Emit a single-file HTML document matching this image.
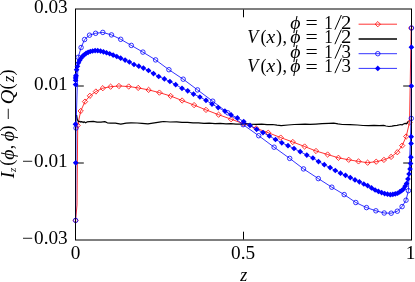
<!DOCTYPE html>
<html><head><meta charset="utf-8"><title>plot</title>
<style>
html,body{margin:0;padding:0;background:#fff;}
body{width:415px;height:282px;overflow:hidden;position:relative;font-family:"Liberation Serif",serif;}
</style></head><body>
<svg width="415" height="282" viewBox="0 0 415 282" style="position:absolute;left:0;top:0;will-change:transform">
<rect x="0" y="0" width="415" height="282" fill="#fff"/>
<g stroke="#000" fill="none" stroke-width="1">
<rect x="75.5" y="9.0" width="336.0" height="231.0"/>
<path d="M76.0 86.0h7.8 M411.0 86.0h-7.8"/>
<path d="M76.0 163.0h7.8 M411.0 163.0h-7.8"/>
<path d="M243.5 239.5v-7.8 M243.5 9.5v7.8"/>
</g>
<polyline points="75.60,220.40 77.00,205.00 77.70,125.40 80.70,111.00 85.00,101.60 89.90,95.80 95.90,91.50 102.80,88.20 110.60,86.70 118.90,86.00 128.70,86.50 138.20,87.90 148.60,89.90 159.40,92.60 170.60,96.00 182.10,100.50 194.10,105.10 206.00,109.90 218.60,114.70 231.10,119.20 243.50,123.70 256.20,128.30 268.20,132.70 280.70,137.60 292.80,142.00 304.60,146.50 316.00,151.00 327.60,154.50 338.40,157.80 348.70,159.80 358.50,161.40 367.60,162.70 376.20,161.70 383.90,159.90 391.10,156.90 397.30,152.20 402.20,145.60 406.20,136.50 409.50,122.50 411.20,28.00" fill="none" stroke="#ff0000" stroke-width="0.80" stroke-linejoin="round"/>
<path d="M75.60 217.75L78.25 220.40L75.60 223.05L72.95 220.40ZM77.70 122.75L80.35 125.40L77.70 128.05L75.05 125.40ZM80.70 108.35L83.35 111.00L80.70 113.65L78.05 111.00ZM85.00 98.95L87.65 101.60L85.00 104.25L82.35 101.60ZM89.90 93.15L92.55 95.80L89.90 98.45L87.25 95.80ZM95.90 88.85L98.55 91.50L95.90 94.15L93.25 91.50ZM102.80 85.55L105.45 88.20L102.80 90.85L100.15 88.20ZM110.60 84.05L113.25 86.70L110.60 89.35L107.95 86.70ZM118.90 83.35L121.55 86.00L118.90 88.65L116.25 86.00ZM128.70 83.85L131.35 86.50L128.70 89.15L126.05 86.50ZM138.20 85.25L140.85 87.90L138.20 90.55L135.55 87.90ZM148.60 87.25L151.25 89.90L148.60 92.55L145.95 89.90ZM159.40 89.95L162.05 92.60L159.40 95.25L156.75 92.60ZM170.60 93.35L173.25 96.00L170.60 98.65L167.95 96.00ZM182.10 97.85L184.75 100.50L182.10 103.15L179.45 100.50ZM194.10 102.45L196.75 105.10L194.10 107.75L191.45 105.10ZM206.00 107.25L208.65 109.90L206.00 112.55L203.35 109.90ZM218.60 112.05L221.25 114.70L218.60 117.35L215.95 114.70ZM231.10 116.55L233.75 119.20L231.10 121.85L228.45 119.20ZM243.50 121.05L246.15 123.70L243.50 126.35L240.85 123.70ZM256.20 125.65L258.85 128.30L256.20 130.95L253.55 128.30ZM268.20 130.05L270.85 132.70L268.20 135.35L265.55 132.70ZM280.70 134.95L283.35 137.60L280.70 140.25L278.05 137.60ZM292.80 139.35L295.45 142.00L292.80 144.65L290.15 142.00ZM304.60 143.85L307.25 146.50L304.60 149.15L301.95 146.50ZM316.00 148.35L318.65 151.00L316.00 153.65L313.35 151.00ZM327.60 151.85L330.25 154.50L327.60 157.15L324.95 154.50ZM338.40 155.15L341.05 157.80L338.40 160.45L335.75 157.80ZM348.70 157.15L351.35 159.80L348.70 162.45L346.05 159.80ZM358.50 158.75L361.15 161.40L358.50 164.05L355.85 161.40ZM367.60 160.05L370.25 162.70L367.60 165.35L364.95 162.70ZM376.20 159.05L378.85 161.70L376.20 164.35L373.55 161.70ZM383.90 157.25L386.55 159.90L383.90 162.55L381.25 159.90ZM391.10 154.25L393.75 156.90L391.10 159.55L388.45 156.90ZM397.30 149.55L399.95 152.20L397.30 154.85L394.65 152.20ZM402.20 142.95L404.85 145.60L402.20 148.25L399.55 145.60ZM406.20 133.85L408.85 136.50L406.20 139.15L403.55 136.50ZM409.50 119.85L412.15 122.50L409.50 125.15L406.85 122.50ZM411.20 25.35L413.85 28.00L411.20 30.65L408.55 28.00Z" fill="none" stroke="#ff0000" stroke-width="0.80"/>
<polyline points="76.60,115.00 77.30,119.60 78.30,121.60 79.80,121.30 80.70,122.10 81.70,121.60 83.20,122.60 84.10,121.80 85.60,122.80 87.00,121.90 89.40,121.60 93.30,121.40 97.10,122.10 101.00,122.10 104.80,121.60 107.30,122.80 110.60,123.10 114.00,123.10 115.40,123.20 120.80,124.10 126.20,123.20 131.00,122.80 137.10,123.00 142.00,123.30 147.90,123.90 154.40,122.80 160.90,121.90 163.70,121.50 170.00,122.00 176.70,121.90 182.00,122.40 187.50,122.30 193.00,122.90 198.40,122.80 204.00,123.30 209.20,123.20 215.00,123.60 220.10,123.40 226.00,123.90 230.90,123.70 236.00,124.20 241.70,124.10 246.00,123.70 250.80,124.10 256.00,124.40 261.70,124.10 267.00,124.60 272.50,124.50 277.00,125.20 281.20,125.60 288.00,125.00 294.20,124.50 300.00,124.30 305.10,124.10 310.00,124.40 315.90,124.10 322.00,123.70 328.90,123.40 333.70,123.20 338.00,123.90 342.30,124.50 350.00,124.70 357.50,125.00 363.00,125.50 368.40,125.60 374.00,125.40 379.20,125.60 383.60,125.40 386.00,126.00 389.00,126.50 392.00,126.20 394.40,125.60 397.00,125.30 400.90,124.50 402.00,125.00 403.50,124.00 405.20,123.40 406.50,123.80 408.50,121.30" fill="none" stroke="#000" stroke-width="1.2" stroke-linejoin="round"/>
<polyline points="75.60,220.40 76.00,128.00 78.20,57.30 81.10,47.50 84.60,39.50 89.50,35.20 95.60,33.30 102.80,32.40 111.50,34.90 120.70,39.30 131.30,45.40 142.90,52.10 155.60,59.90 168.90,69.70 183.20,79.20 197.50,89.90 212.70,101.20 227.80,112.80 243.20,124.70 258.70,135.70 274.10,147.20 289.70,158.40 303.50,168.90 318.30,178.60 331.80,187.20 344.20,194.60 355.80,202.50 366.50,207.60 375.90,210.80 384.20,213.00 391.20,213.20 397.30,211.20 402.10,206.60 406.00,200.20 408.40,190.70 411.30,118.40 411.50,28.00" fill="none" stroke="#0000ff" stroke-width="0.80" stroke-linejoin="round"/>
<circle cx="75.60" cy="220.40" r="2.25" fill="none" stroke="#0000ff" stroke-width="0.80"/><circle cx="76.00" cy="128.00" r="2.25" fill="none" stroke="#0000ff" stroke-width="0.80"/><circle cx="78.20" cy="57.30" r="2.25" fill="none" stroke="#0000ff" stroke-width="0.80"/><circle cx="81.10" cy="47.50" r="2.25" fill="none" stroke="#0000ff" stroke-width="0.80"/><circle cx="84.60" cy="39.50" r="2.25" fill="none" stroke="#0000ff" stroke-width="0.80"/><circle cx="89.50" cy="35.20" r="2.25" fill="none" stroke="#0000ff" stroke-width="0.80"/><circle cx="95.60" cy="33.30" r="2.25" fill="none" stroke="#0000ff" stroke-width="0.80"/><circle cx="102.80" cy="32.40" r="2.25" fill="none" stroke="#0000ff" stroke-width="0.80"/><circle cx="111.50" cy="34.90" r="2.25" fill="none" stroke="#0000ff" stroke-width="0.80"/><circle cx="120.70" cy="39.30" r="2.25" fill="none" stroke="#0000ff" stroke-width="0.80"/><circle cx="131.30" cy="45.40" r="2.25" fill="none" stroke="#0000ff" stroke-width="0.80"/><circle cx="142.90" cy="52.10" r="2.25" fill="none" stroke="#0000ff" stroke-width="0.80"/><circle cx="155.60" cy="59.90" r="2.25" fill="none" stroke="#0000ff" stroke-width="0.80"/><circle cx="168.90" cy="69.70" r="2.25" fill="none" stroke="#0000ff" stroke-width="0.80"/><circle cx="183.20" cy="79.20" r="2.25" fill="none" stroke="#0000ff" stroke-width="0.80"/><circle cx="197.50" cy="89.90" r="2.25" fill="none" stroke="#0000ff" stroke-width="0.80"/><circle cx="212.70" cy="101.20" r="2.25" fill="none" stroke="#0000ff" stroke-width="0.80"/><circle cx="227.80" cy="112.80" r="2.25" fill="none" stroke="#0000ff" stroke-width="0.80"/><circle cx="243.20" cy="124.70" r="2.25" fill="none" stroke="#0000ff" stroke-width="0.80"/><circle cx="258.70" cy="135.70" r="2.25" fill="none" stroke="#0000ff" stroke-width="0.80"/><circle cx="274.10" cy="147.20" r="2.25" fill="none" stroke="#0000ff" stroke-width="0.80"/><circle cx="289.70" cy="158.40" r="2.25" fill="none" stroke="#0000ff" stroke-width="0.80"/><circle cx="303.50" cy="168.90" r="2.25" fill="none" stroke="#0000ff" stroke-width="0.80"/><circle cx="318.30" cy="178.60" r="2.25" fill="none" stroke="#0000ff" stroke-width="0.80"/><circle cx="331.80" cy="187.20" r="2.25" fill="none" stroke="#0000ff" stroke-width="0.80"/><circle cx="344.20" cy="194.60" r="2.25" fill="none" stroke="#0000ff" stroke-width="0.80"/><circle cx="355.80" cy="202.50" r="2.25" fill="none" stroke="#0000ff" stroke-width="0.80"/><circle cx="366.50" cy="207.60" r="2.25" fill="none" stroke="#0000ff" stroke-width="0.80"/><circle cx="375.90" cy="210.80" r="2.25" fill="none" stroke="#0000ff" stroke-width="0.80"/><circle cx="384.20" cy="213.00" r="2.25" fill="none" stroke="#0000ff" stroke-width="0.80"/><circle cx="391.20" cy="213.20" r="2.25" fill="none" stroke="#0000ff" stroke-width="0.80"/><circle cx="397.30" cy="211.20" r="2.25" fill="none" stroke="#0000ff" stroke-width="0.80"/><circle cx="402.10" cy="206.60" r="2.25" fill="none" stroke="#0000ff" stroke-width="0.80"/><circle cx="406.00" cy="200.20" r="2.25" fill="none" stroke="#0000ff" stroke-width="0.80"/><circle cx="408.40" cy="190.70" r="2.25" fill="none" stroke="#0000ff" stroke-width="0.80"/><circle cx="411.30" cy="118.40" r="2.25" fill="none" stroke="#0000ff" stroke-width="0.80"/><circle cx="411.50" cy="28.00" r="2.25" fill="none" stroke="#0000ff" stroke-width="0.80"/>
<polyline points="75.70,162.80 75.50,124.20 75.60,84.60 75.60,80.30 75.60,78.00 75.80,76.73 75.96,75.56 76.61,69.71 77.45,66.33 78.47,62.83 79.66,60.37 81.03,58.25 82.56,56.22 84.26,54.83 86.11,53.32 88.13,52.36 90.31,51.49 92.64,51.00 95.12,50.60 97.75,50.72 100.52,51.06 103.44,51.81 106.50,52.74 109.72,53.75 113.14,55.04 116.79,56.50 120.70,58.20 125.10,60.10 129.40,62.00 134.00,64.50 138.80,66.20 143.40,68.10 148.50,70.50 153.50,73.60 158.70,76.50 164.40,78.90 169.90,81.50 175.70,84.70 182.00,88.30 187.70,90.80 193.50,94.10 199.90,97.00 206.00,100.30 212.00,104.10 218.20,107.60 224.90,111.10 231.10,114.90 237.40,117.90 243.70,121.50 250.00,125.40 256.60,129.30 263.00,132.60 269.30,136.00 275.50,139.50 281.80,142.80 288.00,145.70 294.00,148.50 300.20,151.70 306.80,155.10 312.90,158.00 318.50,161.60 324.30,164.70 330.10,167.60 335.30,170.50 340.50,173.20 345.50,175.30 350.30,177.60 355.00,179.90 359.40,181.80 363.80,184.00 367.70,185.70 371.53,187.93 375.11,190.02 378.46,191.43 381.63,192.56 384.65,193.57 387.52,194.14 390.25,194.69 392.84,194.33 395.28,193.78 397.56,193.25 399.69,191.89 401.66,190.53 403.47,189.10 405.12,186.21 406.60,183.62 407.91,179.00 409.05,174.00 410.02,169.01 410.60,163.50 410.90,157.20 411.10,143.50 411.20,136.70 411.40,86.00 411.40,47.20" fill="none" stroke="#0000ff" stroke-width="0.80" stroke-linejoin="round"/>
<path d="M75.5 9.0V240.0 M411.5 9.0V240.0" stroke="#000" stroke-opacity="0.82" stroke-width="1" fill="none"/>
<path d="M75.70 159.95L78.55 162.80L75.70 165.65L72.85 162.80ZM75.50 121.35L78.35 124.20L75.50 127.05L72.65 124.20ZM75.60 81.75L78.45 84.60L75.60 87.45L72.75 84.60ZM75.60 77.45L78.45 80.30L75.60 83.15L72.75 80.30ZM75.60 75.15L78.45 78.00L75.60 80.85L72.75 78.00ZM75.80 73.88L78.65 76.73L75.80 79.58L72.95 76.73ZM75.96 72.71L78.81 75.56L75.96 78.41L73.11 75.56ZM76.61 66.86L79.46 69.71L76.61 72.56L73.76 69.71ZM77.45 63.48L80.30 66.33L77.45 69.18L74.60 66.33ZM78.47 59.98L81.32 62.83L78.47 65.68L75.62 62.83ZM79.66 57.52L82.51 60.37L79.66 63.22L76.81 60.37ZM81.03 55.40L83.88 58.25L81.03 61.10L78.18 58.25ZM82.56 53.37L85.41 56.22L82.56 59.07L79.71 56.22ZM84.26 51.98L87.11 54.83L84.26 57.68L81.41 54.83ZM86.11 50.47L88.96 53.32L86.11 56.17L83.26 53.32ZM88.13 49.51L90.98 52.36L88.13 55.21L85.28 52.36ZM90.31 48.64L93.16 51.49L90.31 54.34L87.46 51.49ZM92.64 48.15L95.49 51.00L92.64 53.85L89.79 51.00ZM95.12 47.75L97.97 50.60L95.12 53.45L92.27 50.60ZM97.75 47.87L100.60 50.72L97.75 53.57L94.90 50.72ZM100.52 48.21L103.37 51.06L100.52 53.91L97.67 51.06ZM103.44 48.96L106.29 51.81L103.44 54.66L100.59 51.81ZM106.50 49.89L109.35 52.74L106.50 55.59L103.65 52.74ZM109.72 50.90L112.57 53.75L109.72 56.60L106.87 53.75ZM113.14 52.19L115.99 55.04L113.14 57.89L110.29 55.04ZM116.79 53.65L119.64 56.50L116.79 59.35L113.94 56.50ZM120.70 55.35L123.55 58.20L120.70 61.05L117.85 58.20ZM125.10 57.25L127.95 60.10L125.10 62.95L122.25 60.10ZM129.40 59.15L132.25 62.00L129.40 64.85L126.55 62.00ZM134.00 61.65L136.85 64.50L134.00 67.35L131.15 64.50ZM138.80 63.35L141.65 66.20L138.80 69.05L135.95 66.20ZM143.40 65.25L146.25 68.10L143.40 70.95L140.55 68.10ZM148.50 67.65L151.35 70.50L148.50 73.35L145.65 70.50ZM153.50 70.75L156.35 73.60L153.50 76.45L150.65 73.60ZM158.70 73.65L161.55 76.50L158.70 79.35L155.85 76.50ZM164.40 76.05L167.25 78.90L164.40 81.75L161.55 78.90ZM169.90 78.65L172.75 81.50L169.90 84.35L167.05 81.50ZM175.70 81.85L178.55 84.70L175.70 87.55L172.85 84.70ZM182.00 85.45L184.85 88.30L182.00 91.15L179.15 88.30ZM187.70 87.95L190.55 90.80L187.70 93.65L184.85 90.80ZM193.50 91.25L196.35 94.10L193.50 96.95L190.65 94.10ZM199.90 94.15L202.75 97.00L199.90 99.85L197.05 97.00ZM206.00 97.45L208.85 100.30L206.00 103.15L203.15 100.30ZM212.00 101.25L214.85 104.10L212.00 106.95L209.15 104.10ZM218.20 104.75L221.05 107.60L218.20 110.45L215.35 107.60ZM224.90 108.25L227.75 111.10L224.90 113.95L222.05 111.10ZM231.10 112.05L233.95 114.90L231.10 117.75L228.25 114.90ZM237.40 115.05L240.25 117.90L237.40 120.75L234.55 117.90ZM243.70 118.65L246.55 121.50L243.70 124.35L240.85 121.50ZM250.00 122.55L252.85 125.40L250.00 128.25L247.15 125.40ZM256.60 126.45L259.45 129.30L256.60 132.15L253.75 129.30ZM263.00 129.75L265.85 132.60L263.00 135.45L260.15 132.60ZM269.30 133.15L272.15 136.00L269.30 138.85L266.45 136.00ZM275.50 136.65L278.35 139.50L275.50 142.35L272.65 139.50ZM281.80 139.95L284.65 142.80L281.80 145.65L278.95 142.80ZM288.00 142.85L290.85 145.70L288.00 148.55L285.15 145.70ZM294.00 145.65L296.85 148.50L294.00 151.35L291.15 148.50ZM300.20 148.85L303.05 151.70L300.20 154.55L297.35 151.70ZM306.80 152.25L309.65 155.10L306.80 157.95L303.95 155.10ZM312.90 155.15L315.75 158.00L312.90 160.85L310.05 158.00ZM318.50 158.75L321.35 161.60L318.50 164.45L315.65 161.60ZM324.30 161.85L327.15 164.70L324.30 167.55L321.45 164.70ZM330.10 164.75L332.95 167.60L330.10 170.45L327.25 167.60ZM335.30 167.65L338.15 170.50L335.30 173.35L332.45 170.50ZM340.50 170.35L343.35 173.20L340.50 176.05L337.65 173.20ZM345.50 172.45L348.35 175.30L345.50 178.15L342.65 175.30ZM350.30 174.75L353.15 177.60L350.30 180.45L347.45 177.60ZM355.00 177.05L357.85 179.90L355.00 182.75L352.15 179.90ZM359.40 178.95L362.25 181.80L359.40 184.65L356.55 181.80ZM363.80 181.15L366.65 184.00L363.80 186.85L360.95 184.00ZM367.70 182.85L370.55 185.70L367.70 188.55L364.85 185.70ZM371.53 185.08L374.38 187.93L371.53 190.78L368.68 187.93ZM375.11 187.17L377.96 190.02L375.11 192.87L372.26 190.02ZM378.46 188.58L381.31 191.43L378.46 194.28L375.61 191.43ZM381.63 189.71L384.48 192.56L381.63 195.41L378.78 192.56ZM384.65 190.72L387.50 193.57L384.65 196.42L381.80 193.57ZM387.52 191.29L390.37 194.14L387.52 196.99L384.67 194.14ZM390.25 191.84L393.10 194.69L390.25 197.54L387.40 194.69ZM392.84 191.48L395.69 194.33L392.84 197.18L389.99 194.33ZM395.28 190.93L398.13 193.78L395.28 196.63L392.43 193.78ZM397.56 190.40L400.41 193.25L397.56 196.10L394.71 193.25ZM399.69 189.04L402.54 191.89L399.69 194.74L396.84 191.89ZM401.66 187.68L404.51 190.53L401.66 193.38L398.81 190.53ZM403.47 186.25L406.32 189.10L403.47 191.95L400.62 189.10ZM405.12 183.36L407.97 186.21L405.12 189.06L402.27 186.21ZM406.60 180.77L409.45 183.62L406.60 186.47L403.75 183.62ZM407.91 176.15L410.76 179.00L407.91 181.85L405.06 179.00ZM409.05 171.15L411.90 174.00L409.05 176.85L406.20 174.00ZM410.02 166.16L412.87 169.01L410.02 171.86L407.17 169.01ZM410.60 160.65L413.45 163.50L410.60 166.35L407.75 163.50ZM410.90 154.35L413.75 157.20L410.90 160.05L408.05 157.20ZM411.10 140.65L413.95 143.50L411.10 146.35L408.25 143.50ZM411.20 133.85L414.05 136.70L411.20 139.55L408.35 136.70ZM411.40 83.15L414.25 86.00L411.40 88.85L408.55 86.00ZM411.40 44.35L414.25 47.20L411.40 50.05L408.55 47.20Z" fill="#0000ff" stroke="none"/>
<path d="M358.6 24.2H397.0" stroke="#ff0000" stroke-width="0.80"/>
<path d="M377.80 21.55L380.45 24.20L377.80 26.85L375.15 24.20Z" fill="none" stroke="#ff0000" stroke-width="0.80"/>
<path d="M358.6 39.0H397.0" stroke="#000" stroke-width="1.4"/>
<path d="M358.6 53.7H397.0" stroke="#0000ff" stroke-width="0.80"/>
<circle cx="377.8" cy="53.7" r="2.25" fill="none" stroke="#0000ff" stroke-width="0.80"/>
<path d="M358.6 68.4H397.0" stroke="#0000ff" stroke-width="0.80"/>
<path d="M377.80 65.55L380.65 68.40L377.80 71.25L374.95 68.40Z" fill="#0000ff"/>
<g font-family="Liberation Serif, serif" fill="#000">
<text transform="translate(67.70,13.00) scale(1.070,1.000)" font-size="18.00" text-anchor="end">0.03</text>
<text transform="translate(67.70,89.60) scale(1.070,1.000)" font-size="18.00" text-anchor="end">0.01</text>
<text transform="translate(67.70,166.60) scale(1.070,1.000)" font-size="18.00" text-anchor="end">0.01</text>
<text transform="translate(67.70,243.60) scale(1.070,1.000)" font-size="18.00" text-anchor="end">0.03</text>
<text transform="translate(21.91,166.60) scale(1.100,1.000)" font-size="18.00" text-anchor="start">−</text>
<text transform="translate(21.91,243.60) scale(1.100,1.000)" font-size="18.00" text-anchor="start">−</text>
<text transform="translate(75.60,258.80) scale(1.070,1.000)" font-size="18.00" text-anchor="middle">0</text>
<text transform="translate(243.10,258.80) scale(1.070,1.000)" font-size="18.00" text-anchor="middle">0.5</text>
<text transform="translate(410.60,258.80) scale(1.070,1.000)" font-size="18.00" text-anchor="middle">1</text>
<text transform="translate(240.30,281.20) scale(1.000,1.000)" font-size="18.00" text-anchor="start" font-style="italic">z</text>
<g transform="translate(13.5,178.5) rotate(-90)">
<text transform="translate(0.28,0.00) scale(1.050,1.000)" font-size="18.00" text-anchor="start" font-style="italic">I</text>
<text transform="translate(6.62,2.30) scale(1.000,1.000)" font-size="11.00" text-anchor="start" font-style="italic">z</text>
<text transform="translate(12.71,-0.30) scale(1.000,1.000)" font-size="18.00" text-anchor="start">(</text>
<text transform="translate(18.84,0.60) scale(1.100,1.000)" font-size="18.00" text-anchor="start" font-style="italic">ϕ</text>
<text transform="translate(29.32,-0.90) scale(1.000,1.000)" font-size="18.00" text-anchor="start">,</text>
<text transform="translate(37.14,0.60) scale(1.100,1.000)" font-size="18.00" text-anchor="start" font-style="italic">ϕ</text>
<text transform="translate(47.12,-0.30) scale(1.000,1.000)" font-size="18.00" text-anchor="start">)</text>
<text transform="translate(58.50,0.70) scale(1.220,1.000)" font-size="18.00" text-anchor="start">−</text>
<text transform="translate(74.19,0.00) scale(1.120,1.000)" font-size="18.00" text-anchor="start" font-style="italic">Q</text>
<text transform="translate(89.01,-0.30) scale(1.000,1.000)" font-size="18.00" text-anchor="start">(</text>
<text transform="translate(96.29,0.60) scale(1.000,1.000)" font-size="17.00" text-anchor="start" font-style="italic">z</text>
<text transform="translate(103.12,-0.30) scale(1.000,1.000)" font-size="18.00" text-anchor="start">)</text>
</g>
<text transform="translate(290.14,28.60) scale(1.100,1.000)" font-size="18.00" text-anchor="start" font-style="italic">ϕ</text><text transform="translate(305.41,28.60) scale(1.210,1.000)" font-size="18.00" text-anchor="start">=</text><text transform="translate(324.20,28.60) scale(0.950,1.000)" font-size="18.00" text-anchor="start">1</text><path d="M334.9 29.70L341.4 15.00" stroke="#000" stroke-width="1.0" fill="none"/><text transform="translate(340.99,28.60) scale(1.150,1.000)" font-size="18.00" text-anchor="start">2</text>
<text transform="translate(247.36,43.10) scale(1.000,1.000)" font-size="18.00" text-anchor="start" font-style="italic">V</text><text transform="translate(260.51,43.10) scale(1.000,1.000)" font-size="18.00" text-anchor="start">(</text><text transform="translate(266.54,43.10) scale(1.090,1.000)" font-size="18.00" text-anchor="start" font-style="italic">x</text><text transform="translate(275.92,43.10) scale(1.000,1.000)" font-size="18.00" text-anchor="start">)</text><text transform="translate(282.42,43.10) scale(1.000,1.000)" font-size="18.00" text-anchor="start">,</text><text transform="translate(290.14,43.10) scale(1.100,1.000)" font-size="18.00" text-anchor="start" font-style="italic">ϕ</text><text transform="translate(305.41,43.10) scale(1.210,1.000)" font-size="18.00" text-anchor="start">=</text><text transform="translate(324.20,43.10) scale(0.950,1.000)" font-size="18.00" text-anchor="start">1</text><path d="M334.9 44.20L341.4 29.50" stroke="#000" stroke-width="1.0" fill="none"/><text transform="translate(340.99,43.10) scale(1.150,1.000)" font-size="18.00" text-anchor="start">2</text>
<text transform="translate(290.14,57.60) scale(1.100,1.000)" font-size="18.00" text-anchor="start" font-style="italic">ϕ</text><text transform="translate(305.41,58.30) scale(1.210,1.000)" font-size="18.00" text-anchor="start">=</text><text transform="translate(324.20,57.60) scale(0.950,1.000)" font-size="18.00" text-anchor="start">1</text><path d="M334.9 58.70L341.4 44.00" stroke="#000" stroke-width="1.0" fill="none"/><text transform="translate(341.59,57.60) scale(1.050,1.000)" font-size="18.00" text-anchor="start">3</text>
<text transform="translate(247.36,72.10) scale(1.000,1.000)" font-size="18.00" text-anchor="start" font-style="italic">V</text><text transform="translate(260.51,72.10) scale(1.000,1.000)" font-size="18.00" text-anchor="start">(</text><text transform="translate(266.54,72.10) scale(1.090,1.000)" font-size="18.00" text-anchor="start" font-style="italic">x</text><text transform="translate(275.92,72.10) scale(1.000,1.000)" font-size="18.00" text-anchor="start">)</text><text transform="translate(282.42,72.10) scale(1.000,1.000)" font-size="18.00" text-anchor="start">,</text><text transform="translate(290.14,72.10) scale(1.100,1.000)" font-size="18.00" text-anchor="start" font-style="italic">ϕ</text><text transform="translate(305.41,73.00) scale(1.210,1.000)" font-size="18.00" text-anchor="start">=</text><text transform="translate(324.20,72.10) scale(0.950,1.000)" font-size="18.00" text-anchor="start">1</text><path d="M334.9 73.20L341.4 58.50" stroke="#000" stroke-width="1.0" fill="none"/><text transform="translate(341.59,72.10) scale(1.050,1.000)" font-size="18.00" text-anchor="start">3</text>
</g>
</svg>
</body></html>
